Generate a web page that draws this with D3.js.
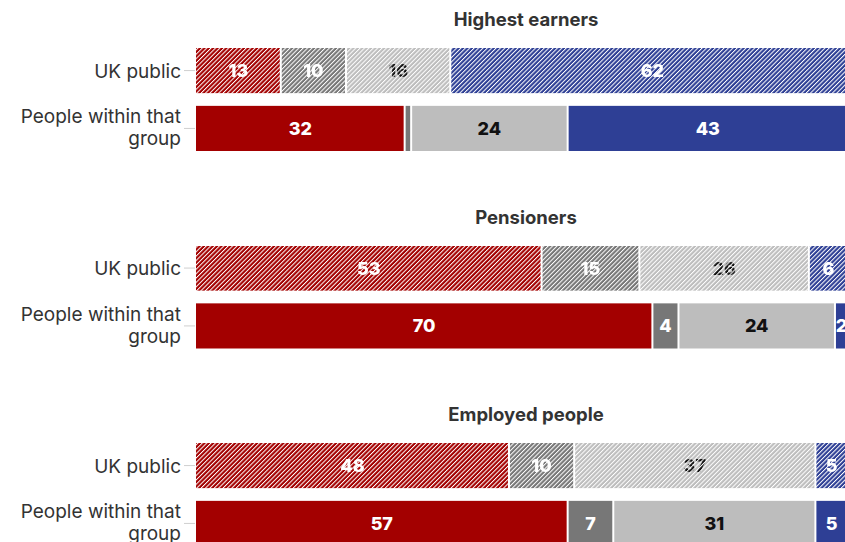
<!DOCTYPE html>
<html>
<head>
<meta charset="utf-8">
<script src="https://cdn.jsdelivr.net/npm/d3@7"></script>
<style>
  html, body { margin: 0; padding: 0; background: #fff; }
  svg { display: block; }
  text { font-family: Inter, "Noto Sans", sans-serif; }
</style>
</head>
<body>
<script>
// Panels, rows and the four answer segments of each stacked bar
const groups = ["Highest earners", "Pensioners", "Employed people"];
const rows = ["UK public", "People within that group"];
const segmentKeys = ["seg1", "seg2", "seg3", "seg4"];
const segmentColors = ["#a30000", "#777777", "#bdbdbd", "#2e3f95"];
const labelColors = ["#ffffff", "#ffffff", "#111111", "#ffffff"];

// Percentages, one array per panel and row
const highestPublic = [13, 10, 16, 62];
const highestWithin = [32, 1, 24, 43];
const pensionersPublic = [53, 15, 26, 6];
const pensionersWithin = [70, 4, 24, 2];
const employedPublic = [48, 10, 37, 5];
const employedWithin = [57, 7, 31, 5];

const panelValues = [
  [highestPublic, highestWithin],
  [pensionersPublic, pensionersWithin],
  [employedPublic, employedWithin]
];

const W = 845, H = 542;
const svg = d3.select("body").append("svg").attr("width", W).attr("height", H);

const x = d3.scaleLinear().domain([0, 100]).range([196, 848]);
const panelY = d3.scaleLinear().domain([0, 1]).range([48, 245.5]);
const rowY = d3.scaleBand().domain(rows).range([0, 103]).paddingInner(0.22).paddingOuter(0);

// Diagonal stripe mask for the "UK public" rows
const defs = svg.append("defs");
const pat = defs.append("pattern")
  .attr("id", "stripes")
  .attr("patternUnits", "userSpaceOnUse")
  .attr("width", 3.1).attr("height", 10)
  .attr("patternTransform", "rotate(45)");
pat.append("rect").attr("width", 3.1).attr("height", 10).attr("fill", "#fff");
pat.append("rect").attr("x", 0).attr("width", 1.0).attr("height", 10).attr("fill", "#000");
defs.append("mask")
  .attr("id", "hatch")
  .attr("maskUnits", "userSpaceOnUse")
  .attr("x", 0).attr("y", 0).attr("width", W).attr("height", H)
  .append("rect").attr("width", W).attr("height", H).attr("fill", "url(#stripes)");

groups.forEach((g, gi) => {
  const top = panelY(gi);
  const panel = svg.append("g").attr("transform", `translate(0,${top})`);

  panel.append("text")
    .attr("x", 526).attr("y", -22)
    .attr("text-anchor", "middle")
    .attr("font-size", 18.5).attr("font-weight", 700)
    .attr("fill", "#333")
    .text(g);

  rows.forEach((r, ri) => {
    const vals = panelValues[gi][ri];
    const stacked = [];
    let acc = 0;
    vals.forEach((v, i) => { stacked.push({ key: segmentKeys[i], i, v, s0: acc, s1: acc + v }); acc += v; });

    const y0 = rowY(r), bh = rowY.bandwidth();
    const cy = y0 + bh / 2;

    // axis tick
    panel.append("line")
      .attr("x1", 184).attr("x2", 195)
      .attr("y1", cy).attr("y2", cy)
      .attr("stroke", "#cfcfcf").attr("stroke-width", 1);

    // row label
    const lbl = panel.append("text")
      .attr("text-anchor", "end")
      .attr("font-size", 19)
      .attr("fill", "#333");
    if (ri === 0) {
      lbl.append("tspan").attr("x", 181).attr("y", cy + 7).text(r);
    } else {
      lbl.append("tspan").attr("x", 181).attr("y", cy - 5).text("People within that");
      lbl.append("tspan").attr("x", 181).attr("y", cy + 17).text("group");
    }

    const rowG = panel.append("g");
    if (ri === 0) rowG.attr("mask", "url(#hatch)");

    rowG.selectAll("rect")
      .data(stacked)
      .join("rect")
      .attr("x", d => x(d.s0) + (d.i ? 1 : 0))
      .attr("y", y0)
      .attr("width", d => Math.max(0, x(d.s1) - x(d.s0) - (d.i ? 1 : 0) - 1))
      .attr("height", bh)
      .attr("fill", d => segmentColors[d.i]);

    rowG.selectAll("text")
      .data(stacked.filter(d => d.v >= 2))
      .join("text")
      .attr("x", d => (x(d.s0) + x(d.s1)) / 2)
      .attr("y", cy + 6.5)
      .attr("text-anchor", "middle")
      .attr("font-size", 18).attr("font-weight", 800)
      .attr("fill", d => labelColors[d.i])
      .text(d => d.v);
  });
});
</script>
</body>
</html>
